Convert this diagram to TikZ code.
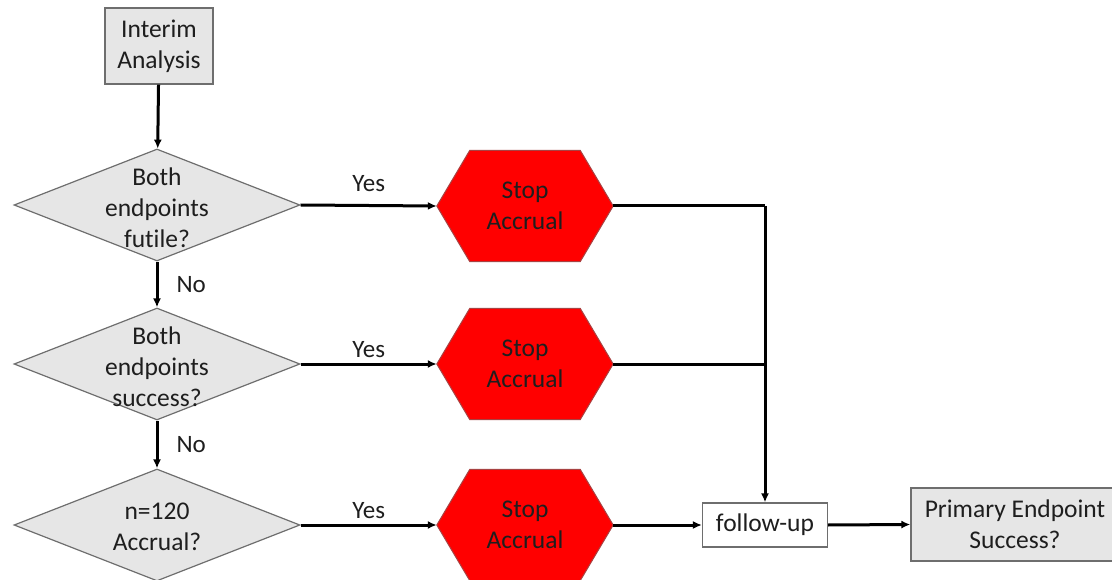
\documentclass[tikz,border=0pt]{standalone}
\usepackage{fontspec}
\setmainfont{Carlito}[Ligatures=NoCommon]
\usetikzlibrary{shapes.geometric,arrows.meta}
\definecolor{boxgrey}{RGB}{230,230,230}
\definecolor{edgegrey}{RGB}{110,110,110}
\definecolor{textcol}{RGB}{30,30,30}
\tikzset{
  txt/.style={font=\fontsize{25.5}{31}\selectfont, text=textcol, align=center, inner sep=0pt},
  greybox/.style={draw=edgegrey, line width=1.2pt, fill=boxgrey, txt, inner sep=0pt},
  dia/.style={diamond, draw=edgegrey, line width=1.2pt, fill=boxgrey, minimum width=286pt, minimum height=112pt, inner sep=0pt},
  hexframe/.style={minimum width=176pt, minimum height=111pt, inner sep=0pt},
  hexfill/.style={draw=edgegrey!60!red, line width=1pt, fill=red},
  conn/.style={line width=3pt, -{Latex[length=9pt,width=8pt]}},
  plain/.style={line width=3pt},
  lbl/.style={font=\fontsize{25}{30}\selectfont, text=textcol, inner sep=0pt}
}
\newcommand\hexagonat[1]{%
  \filldraw[hexfill] (#1.west) -- ([xshift=33pt]#1.north west) -- ([xshift=-33pt]#1.north east)
   -- (#1.east) -- ([xshift=-33pt]#1.south east) -- ([xshift=33pt]#1.south west) -- cycle;}
\begin{document}
\begin{tikzpicture}[x=1pt,y=-1pt]
\useasboundingbox (0,0) rectangle (1112,580);
\clip (0,0) rectangle (1112,580);
% nodes
\node[greybox, minimum width=108pt, minimum height=76pt] (ia) at (159,46) {Interim\\Analysis};
\node[dia] (d1) at (157,205) {};
\node[txt] at (157,208) {Both\\endpoints\\futile?};
\node[dia] (d2) at (157,364) {};
\node[txt] at (157,367) {Both\\endpoints\\success?};
\node[dia] (d3) at (157,525) {};
\node[txt] at (157,527) {n=120\\Accrual?};
\node[hexframe] (h1) at (525,206) {};
\node[hexframe] (h2) at (525,364) {};
\node[hexframe] (h3) at (525,525) {};
\hexagonat{h1}\hexagonat{h2}\hexagonat{h3}
\node[txt] at (h1) {Stop\\Accrual};
\node[txt] at (h2) {Stop\\Accrual};
\node[txt] at (h3) {Stop\\Accrual};
\node[draw=edgegrey, line width=1.2pt, fill=white, txt, minimum width=125pt, minimum height=44pt] (fu) at (765,525) {follow-up};
\node[greybox, minimum width=208pt, minimum height=73pt] (pe) at (1015,524.5) {Primary Endpoint\\Success?};
\coordinate (j1) at (765,206);
\coordinate (j2) at (765,364);
% connectors
\draw[conn] (ia) -- (d1);
\draw[conn] (d1) -- node[lbl, right=18pt] {No} (d2);
\draw[conn] (d2) -- node[lbl, right=18pt] {No} (d3);
\draw[conn] (d1.east) -- node[lbl, above=12pt] {Yes} (h1.west);
\draw[conn] (d2.east) -- node[lbl, above=5pt] {Yes} (h2.west);
\draw[conn] (d3.east) -- node[lbl, above=5pt] {Yes} (h3.west);
\draw[plain] (h1.east) -- (j1);
\draw[plain] (h2.east) -- (j2);
\draw[conn] (j1) -- (fu.north);
\draw[conn] (h3.east) -- (fu.west);
\draw[conn] (fu.east) -- (pe.west);
\end{tikzpicture}
\end{document}
